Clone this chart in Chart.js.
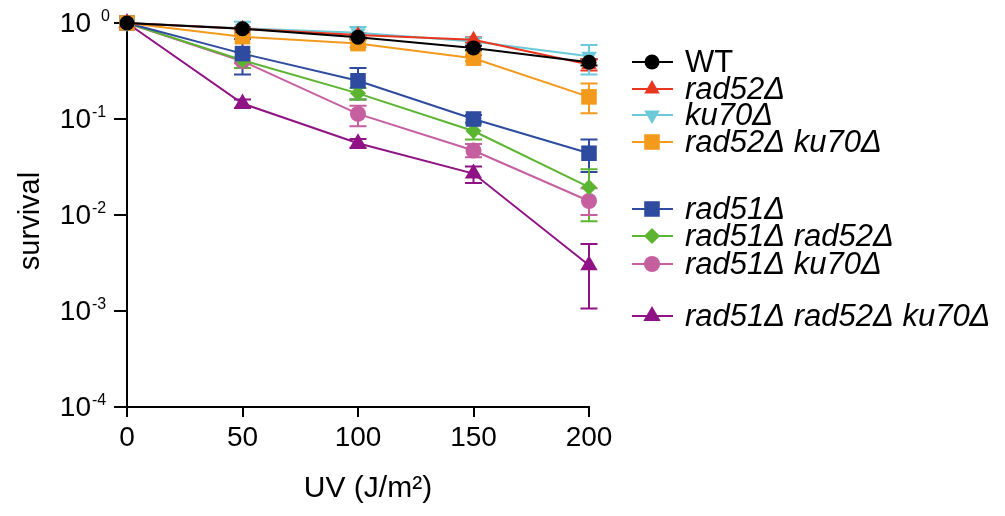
<!DOCTYPE html>
<html>
<head>
<meta charset="utf-8">
<script src="https://cdn.jsdelivr.net/npm/chart.js@4.4.0/dist/chart.umd.min.js"></script>
<style>
html, body { margin: 0; padding: 0; background: #fff; }
#wrap { width: 1005px; height: 516px; }
</style>
</head>
<body>
<div id="wrap"><canvas id="c"></canvas></div>
<script>
// UV dose (J/m2)
const doses = [0, 50, 100, 150, 200];
const yTicks = [1e-4, 1e-3, 1e-2, 1e-1, 1];

// survival fractions
const wt         = [1, 0.87, 0.71, 0.55, 0.39];
const rad52      = [1, 0.87, 0.75, 0.67, 0.37];
const ku70       = [1, 0.88, 0.79, 0.64, 0.45];
const rad52ku70  = [1, 0.72, 0.61, 0.43, 0.17];
const rad51      = [1, 0.48, 0.25, 0.10, 0.044];
const rad51rad52 = [1, 0.41, 0.185, 0.075, 0.0195];
const rad51ku70  = [1, 0.40, 0.113, 0.047, 0.014];
const triple     = [1, 0.145, 0.056, 0.027, 0.003];

// error bar ends (low / high)
const wtLo         = [null, 0.84, 0.68, 0.52, 0.36];
const wtHi         = [null, 0.90, 0.74, 0.58, 0.42];
const rad52Lo      = [null, 0.84, 0.72, 0.63, 0.32];
const rad52Hi      = [null, 0.90, 0.78, 0.71, 0.42];
const ku70Lo       = [null, 0.80, 0.72, 0.60, 0.29];
const ku70Hi       = [null, 1.03, 0.91, 0.70, 0.59];
const rad52ku70Lo  = [null, 0.68, 0.56, 0.40, 0.115];
const rad52ku70Hi  = [null, 0.76, 0.66, 0.46, 0.235];
const rad51Lo      = [null, 0.29, 0.16, 0.092, 0.028];
const rad51Hi      = [null, 0.68, 0.34, 0.11, 0.061];
const rad51rad52Lo = [null, 0.34, 0.16, 0.061, 0.0086];
const rad51rad52Hi = [null, 0.50, 0.21, 0.09, 0.030];
const rad51ku70Lo  = [null, 0.38, 0.084, 0.040, 0.010];
const rad51ku70Hi  = [null, 0.44, 0.137, 0.055, 0.019];
const tripleLo     = [null, 0.13, 0.050, 0.0216, 0.00106];
const tripleHi     = [null, 0.16, 0.062, 0.032, 0.005];

const series = [
  { label: 'WT', italic: false, vals: wt, lo: wtLo, hi: wtHi, color: '#000000', style: 'circle', rot: 0, r: 7.5 },
  { label: 'rad52Δ', italic: true, vals: rad52, lo: rad52Lo, hi: rad52Hi, color: '#e8361f', style: 'triangle', rot: 0, r: 9 },
  { label: 'ku70Δ', italic: true, vals: ku70, lo: ku70Lo, hi: ku70Hi, color: '#6cc9d9', style: 'triangle', rot: 180, r: 9 },
  { label: 'rad52Δ ku70Δ', italic: true, vals: rad52ku70, lo: rad52ku70Lo, hi: rad52ku70Hi, color: '#f3991c', style: 'rect', rot: 0, r: 11 },
  { label: 'rad51Δ', italic: true, vals: rad51, lo: rad51Lo, hi: rad51Hi, color: '#2e4b9f', style: 'rect', rot: 0, r: 11 },
  { label: 'rad51Δ rad52Δ', italic: true, vals: rad51rad52, lo: rad51rad52Lo, hi: rad51rad52Hi, color: '#5cb531', style: 'rectRot', rot: 0, r: 8 },
  { label: 'rad51Δ ku70Δ', italic: true, vals: rad51ku70, lo: rad51ku70Lo, hi: rad51ku70Hi, color: '#c55fa0', style: 'circle', rot: 0, r: 8 },
  { label: 'rad51Δ rad52Δ ku70Δ', italic: true, vals: triple, lo: tripleLo, hi: tripleHi, color: '#8f1384', style: 'triangle', rot: 0, r: 10 }
];

const legendRows = [62, 89, 115, 142, 209, 236, 264, 316];
const FONT = '"Liberation Sans", Arial, Helvetica, sans-serif';

// 误差线
const errorBars = {
  id: 'errorBars',
  beforeDatasetsDraw(chart) {
    const ctx = chart.ctx;
    const xs = chart.scales.x, ys = chart.scales.y;
    ctx.save();
    ctx.lineWidth = 2;
    series.forEach(s => {
      ctx.strokeStyle = s.color;
      doses.forEach((d, i) => {
        if (s.lo[i] == null) return;
        const x = xs.getPixelForValue(d);
        const y1 = ys.getPixelForValue(s.lo[i]);
        const y2 = ys.getPixelForValue(s.hi[i]);
        ctx.beginPath();
        ctx.moveTo(x, y1); ctx.lineTo(x, y2);
        ctx.moveTo(x - 8.5, y1); ctx.lineTo(x + 8.5, y1);
        ctx.moveTo(x - 8.5, y2); ctx.lineTo(x + 8.5, y2);
        ctx.stroke();
      });
    });
    ctx.restore();
  }
};

// y 轴刻度标签、轴标题、图例
const extras = {
  id: 'extras',
  afterDraw(chart) {
    const ctx = chart.ctx;
    const ys = chart.scales.y;
    ctx.save();
    ctx.fillStyle = '#000';
    yTicks.forEach(v => {
      const y = ys.getPixelForValue(v);
      const exp = Math.round(Math.log10(v));
      ctx.font = '28px ' + FONT;
      ctx.textAlign = 'right';
      ctx.textBaseline = 'middle';
      ctx.fillText('10', 91, y + 1);
      ctx.font = '16px ' + FONT;
      ctx.textAlign = 'left';
      ctx.fillText(String(exp), exp === 0 ? 101 : 92, y - 6);
    });

    ctx.font = '30px ' + FONT;
    ctx.textAlign = 'center';
    ctx.textBaseline = 'middle';
    ctx.fillText('UV (J/m²)', 368, 489);

    ctx.translate(31, 221);
    ctx.rotate(-Math.PI / 2);
    ctx.font = '29px ' + FONT;
    ctx.fillText('survival', 0, 0);
    ctx.restore();

    ctx.save();
    series.forEach((s, i) => {
      const y = legendRows[i];
      ctx.strokeStyle = s.color;
      ctx.fillStyle = s.color;
      ctx.lineWidth = 2;
      ctx.beginPath();
      ctx.moveTo(632, y); ctx.lineTo(673, y);
      ctx.stroke();
      Chart.helpers.drawPoint(ctx, { pointStyle: s.style, rotation: s.rot, radius: s.r, borderWidth: 0 }, 652, y);
      ctx.fillStyle = '#000';
      ctx.font = (s.italic ? 'italic ' : '') + '31px ' + FONT;
      ctx.textAlign = 'left';
      ctx.textBaseline = 'middle';
      ctx.fillText(s.label, 685, y + 1);
    });
    ctx.restore();
  }
};

new Chart(document.getElementById('c'), {
  type: 'line',
  data: {
    datasets: series.map(s => ({
      label: s.label,
      data: doses.map((d, i) => ({ x: d, y: s.vals[i] })),
      borderColor: s.color,
      backgroundColor: s.color,
      borderWidth: 2,
      pointStyle: s.style,
      pointRotation: s.rot,
      pointRadius: s.r,
      pointBorderWidth: 0,
      pointBackgroundColor: s.color,
      tension: 0,
      clip: false
    }))
  },
  options: {
    responsive: true,
    maintainAspectRatio: false,
    animation: false,
    layout: { padding: { top: 23, right: 416, left: 0, bottom: 0 } },
    plugins: { legend: { display: false }, tooltip: { enabled: false } },
    scales: {
      x: {
        type: 'linear',
        min: 0, max: 200,
        ticks: { stepSize: 50, color: '#000', font: { size: 28, family: FONT }, padding: 4 },
        grid: { drawOnChartArea: false, tickLength: 10, color: '#000', lineWidth: 2 },
        border: { color: '#000', width: 2 },
        afterFit: s => { s.height = 109; }
      },
      y: {
        type: 'logarithmic',
        min: 1e-4, max: 1,
        afterBuildTicks: s => { s.ticks = yTicks.map(v => ({ value: v })); },
        ticks: { display: false },
        grid: { drawOnChartArea: false, tickLength: 13, color: '#000', lineWidth: 2 },
        border: { color: '#000', width: 2 },
        afterFit: s => { s.width = 127; }
      }
    }
  },
  plugins: [errorBars, extras]
});
</script>
</body>
</html>
